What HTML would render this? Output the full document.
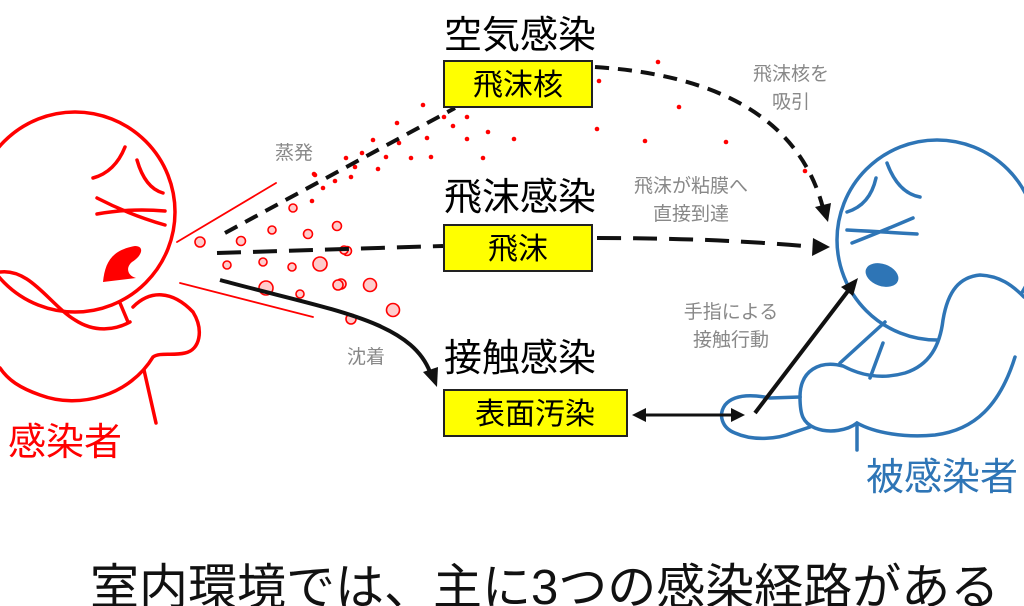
<!DOCTYPE html>
<html><head><meta charset="utf-8"><style>
html,body{margin:0;padding:0;background:#fff;}
svg{display:block;}
text{font-family:"Liberation Sans","Noto Sans CJK JP",sans-serif;}
</style></head><body>
<svg width="1024" height="606" viewBox="0 0 1024 606" xmlns="http://www.w3.org/2000/svg">
<!-- left person -->
<g fill="none" stroke="#f00" stroke-width="3.5" stroke-linecap="round">
<circle cx="75" cy="212" r="100"/>
<path d="M125,147 Q115,172 93,178"/>
<path d="M137,160 Q145,188 163,193"/>
<path d="M97,198 Q130,215 165,225"/>
<path d="M97,214 Q130,208 165,211"/>
<path d="M0,272 C30,268 50,305 75,320 C95,333 115,330 130,322"/>
<path d="M120,303 L128,322"/>
<path d="M133,307 C150,290 172,290 193,312 C204,330 200,350 185,353 C172,356 160,352 153,357 C130,395 80,410 40,395 C20,388 8,380 0,368"/>
<path d="M144,370 L156,423"/>
<path d="M177,242 L276,183" stroke-width="1.8"/>
<path d="M180,283 L313,317" stroke-width="1.8"/>
</g>
<path d="M103,282 C105,262 112,250 135,246 C145,246 142,256 132,262 C125,268 128,276 136,278 Z" fill="#f00"/>
<!-- right person -->
<g fill="none" stroke="#2e75b6" stroke-width="3.5" stroke-linecap="round">
<circle cx="937" cy="240" r="100"/>
<path d="M876,178 Q870,205 847,212"/>
<path d="M887,163 Q898,193 920,197"/>
<path d="M847,230 Q885,232 917,234"/>
<path d="M852,243 Q885,230 913,218"/>
<path d="M840,363 L885,322"/>
</g>
<path d="M800,397 C800,370 820,360 843,366 C860,375 880,380 905,373 C930,365 940,345 943,320 C948,290 960,277 980,275 C1000,276 1012,285 1024,297 L1024,340 L1015,357 C1000,405 975,430 935,435 C905,438 875,433 857,423 C848,430 830,434 815,428 C803,423 800,415 800,397 Z" fill="#fff" stroke="none"/>
<g fill="none" stroke="#2e75b6" stroke-width="3.5" stroke-linecap="round">
<path d="M883,343 L870,378"/>
<path d="M800,397 C800,370 820,360 843,366 C860,375 880,380 905,373 C930,365 940,345 943,320 C948,290 960,277 980,275 C1000,276 1012,285 1024,297"/>
<path d="M800,397 L770,398 C755,395 735,393 725,405 C718,415 722,428 735,433 C755,442 780,438 792,433 L810,427"/>
<path d="M800,397 C800,415 803,423 815,428 C830,434 848,430 857,423 C875,433 905,438 935,435 C975,430 1000,405 1015,357"/>
<path d="M857,423 L857,450"/>
</g>
<ellipse cx="882" cy="275" rx="17" ry="11" transform="rotate(20 882 275)" fill="#2e75b6"/>
<!-- small red dots -->
<g fill="#f00">
<circle cx="658" cy="62" r="2.3"/><circle cx="599" cy="81" r="2.3"/><circle cx="679" cy="107" r="2.3"/><circle cx="423" cy="105" r="2.3"/><circle cx="467" cy="117" r="2.3"/><circle cx="444" cy="117" r="2.3"/><circle cx="453" cy="126" r="2.3"/><circle cx="397" cy="123" r="2.3"/><circle cx="373" cy="140" r="2.3"/><circle cx="427" cy="138" r="2.3"/><circle cx="467" cy="139" r="2.3"/><circle cx="488" cy="132" r="2.3"/><circle cx="514" cy="139" r="2.3"/><circle cx="597" cy="129" r="2.3"/><circle cx="645" cy="141" r="2.3"/><circle cx="726" cy="142" r="2.3"/><circle cx="805" cy="171" r="2.3"/><circle cx="399" cy="143" r="2.3"/><circle cx="386" cy="157" r="2.3"/><circle cx="362" cy="153" r="2.3"/><circle cx="411" cy="158" r="2.3"/><circle cx="431" cy="157" r="2.3"/><circle cx="483" cy="158" r="2.3"/><circle cx="346" cy="158" r="2.3"/><circle cx="355" cy="167" r="2.3"/><circle cx="378" cy="169" r="2.3"/><circle cx="351" cy="177" r="2.3"/><circle cx="335" cy="181" r="2.3"/><circle cx="314" cy="174" r="2.3"/><circle cx="323" cy="188" r="2.3"/><circle cx="312" cy="201" r="2.3"/><circle cx="315" cy="175" r="2.3"/>
</g>
<!-- droplets -->
<g fill="#fcc" stroke="#f00" stroke-width="1.6">
<circle cx="200" cy="242" r="5"/><circle cx="241" cy="241" r="4.5"/><circle cx="272" cy="230" r="4"/><circle cx="293" cy="208" r="4"/><circle cx="308" cy="234" r="4.5"/><circle cx="337" cy="226" r="4.5"/><circle cx="227" cy="265" r="4"/><circle cx="263" cy="262" r="4"/><circle cx="292" cy="267" r="4"/><circle cx="320" cy="264" r="7"/><circle cx="347" cy="251" r="4.5"/><circle cx="266" cy="288" r="7"/><circle cx="300" cy="294" r="4"/><circle cx="341" cy="284" r="5"/><circle cx="370" cy="285" r="6.5"/><circle cx="393" cy="310" r="6.5"/><circle cx="351" cy="319" r="5"/><circle cx="344" cy="250" r="4"/><circle cx="338" cy="285" r="5"/>
</g>
<!-- connectors -->
<g fill="none" stroke="#111" stroke-width="4">
<path d="M225,233 L455,108" stroke-dasharray="14,9"/>
<path d="M217,253 L443,246" stroke-dasharray="24,12"/>
<path d="M597,238 Q720,238 815,247" stroke-dasharray="24,12"/>
<path d="M595,67 C720,75 800,120 823,208" stroke-dasharray="14,9"/>
<path d="M220,280 C330,310 410,320 430,372"/>
<path d="M645,415 L732,415" stroke-width="3"/>
<path d="M755,413 L848,291"/>
</g>
<g fill="#111">
<path d="M830,247 L813,238 L812,256 Z"/>
<path d="M828,222 L815,207 L831,203 Z"/>
<path d="M437,387 L423,372 L438,367 Z"/>
<path d="M632,415 L646,408 L646,422 Z"/>
<path d="M745,415 L731,408 L731,422 Z"/>
<path d="M858,278 L841,287 L853,296 Z"/>
</g>
<!-- boxes -->
<g fill="#ff0" stroke="#222" stroke-width="2">
<rect x="444" y="61" width="148" height="46"/>
<rect x="444" y="225" width="148" height="46"/>
<rect x="444" y="390" width="183" height="46"/>
</g>
<g font-size="30" fill="#000" text-anchor="middle">
<text x="518" y="95">飛沫核</text>
<text x="518" y="259">飛沫</text>
<text x="535" y="424">表面汚染</text>
</g>
<g font-size="38" fill="#000">
<text x="444" y="48">空気感染</text>
<text x="444" y="210">飛沫感染</text>
<text x="444" y="371">接触感染</text>
</g>
<g font-size="19" fill="#888" text-anchor="middle">
<text x="294" y="159">蒸発</text>
<text x="366" y="363">沈着</text>
<text x="791" y="80">飛沫核を</text>
<text x="791" y="108">吸引</text>
<text x="691" y="192">飛沫が粘膜へ</text>
<text x="691" y="220">直接到達</text>
<text x="731" y="318">手指による</text>
<text x="731" y="346">接触行動</text>
</g>
<text x="8" y="455" font-size="38" fill="#f00">感染者</text>
<text x="866" y="490" font-size="38" fill="#2e75b6">被感染者</text>
<text x="90" y="604" font-size="49" fill="#111">室内環境では、主に3つの感染経路がある</text>
</svg>
</body></html>
